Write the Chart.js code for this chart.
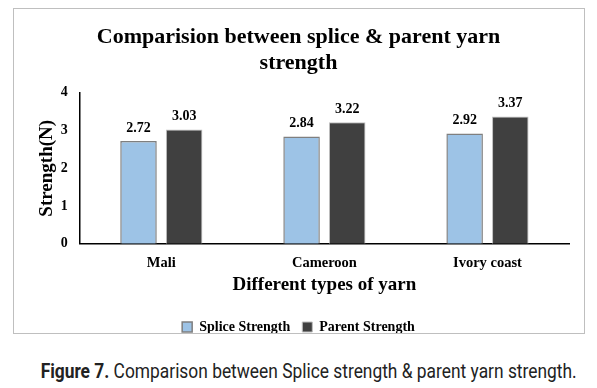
<!DOCTYPE html>
<html>
<head>
<meta charset="utf-8">
<script src="https://cdn.jsdelivr.net/npm/chart.js@4.4.1/dist/chart.umd.min.js"></script>
<style>
    body { margin: 0; background: #fff; width: 597px; height: 388px; position: relative; overflow: hidden; }
    #box { position: absolute; left: 13px; top: 8px; width: 570px; height: 324px; border: 1px solid #bfbfbf; }
    #caption { position: absolute; left: 0; width: 594px; top: 359px; text-align: center; font-family: Roboto, sans-serif; font-size: 20px; color: #222; white-space: nowrap; }
    #caption span { display: inline-block; transform-origin: center; }
</style>
</head>
<body>
<div id="box"><canvas id="yarnChart" width="570" height="324"></canvas></div>
<div id="caption"><span id="capText"><b>Figure 7.</b> Comparison between Splice strength &amp; parent yarn strength.</span></div>
<script>
const yarnTypes = ["Mali", "Cameroon", "Ivory coast"];
const spliceStrength = [2.72, 2.84, 2.92];
const parentStrength = [3.03, 3.22, 3.37];
const yTicks = [0, 1, 2, 3, 4];

const serif = "'Liberation Serif', 'Times New Roman', serif";

// caption is set in a condensed face in the original, squeeze it to match
const cap = document.getElementById("capText");
cap.style.transform = "scaleX(" + (536 / cap.getBoundingClientRect().width) + ")";

// draws the value above each bar
const valueLabels = {
    id: "valueLabels",
    afterDatasetsDraw(chart) {
        const ctx = chart.ctx;
        ctx.save();
        ctx.font = "bold 14px " + serif;
        ctx.fillStyle = "#000";
        ctx.textAlign = "center";
        ctx.textBaseline = "bottom";
        chart.data.datasets.forEach((ds, i) => {
            chart.getDatasetMeta(i).data.forEach((bar, j) => {
                ctx.fillText(ds.data[j].toFixed(2), bar.x, bar.y - 6);
            });
        });
        ctx.restore();
    }
};

const ctx = document.getElementById("yarnChart").getContext("2d");
new Chart(ctx, {
    type: "bar",
    data: {
        labels: yarnTypes,
        datasets: [
            {
                label: "Splice Strength",
                data: spliceStrength,
                backgroundColor: "#9dc3e6",
                borderColor: "#7f7f7f",
                borderWidth: 1.5,
                categoryPercentage: 0.56,
                barPercentage: 0.8
            },
            {
                label: "Parent Strength",
                data: parentStrength,
                backgroundColor: "#404040",
                borderColor: "#bfbfbf",
                borderWidth: 1,
                categoryPercentage: 0.56,
                barPercentage: 0.8
            }
        ]
    },
    options: {
        responsive: false,
        animation: false,
        layout: { padding: { left: 14, right: 15, top: 9, bottom: -11 } },
        plugins: {
            title: {
                display: true,
                text: ["Comparision between splice & parent yarn", "strength"],
                font: { family: serif, size: 22, weight: "bold" },
                color: "#000",
                lineHeight: 1.05,
                padding: { top: 6, bottom: 16 }
            },
            legend: {
                position: "bottom",
                labels: {
                    font: { family: serif, size: 14, weight: "bold" },
                    color: "#000",
                    boxWidth: 10,
                    boxHeight: 10,
                    padding: 12
                }
            },
            tooltip: { enabled: false }
        },
        scales: {
            x: {
                grid: { display: false, drawTicks: false },
                border: { color: "#000", width: 1.5 },
                ticks: { font: { family: serif, size: 14.5, weight: "bold" }, color: "#000", padding: 11 },
                title: {
                    display: true,
                    text: "Different types of yarn",
                    font: { family: serif, size: 19, weight: "bold" },
                    color: "#000",
                    padding: { top: -10, bottom: 12 }
                }
            },
            y: {
                min: 0,
                max: 4,
                afterBuildTicks: (axis) => { axis.ticks = yTicks.map(v => ({ value: v })); },
                grid: { display: false, drawTicks: true, tickLength: 5, tickColor: "#000" },
                border: { color: "#000", width: 1.5 },
                ticks: { font: { family: serif, size: 14, weight: "bold" }, color: "#000", padding: 7 },
                title: {
                    display: true,
                    text: "Strength(N)",
                    font: { family: serif, size: 19, weight: "bold" },
                    color: "#000",
                    padding: { top: 8, bottom: -5 }
                }
            }
        }
    },
    plugins: [valueLabels]
});
</script>
</body>
</html>
